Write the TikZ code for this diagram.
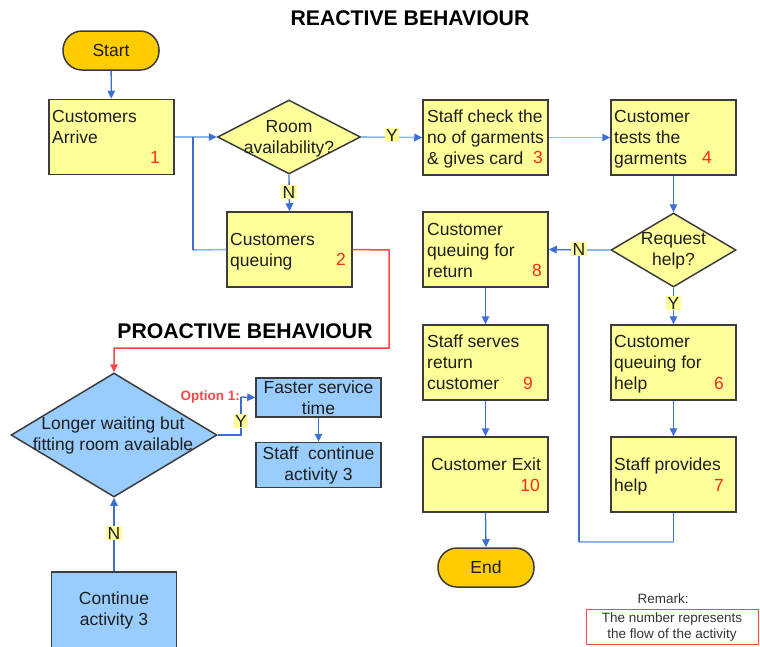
\documentclass[tikz,border=0pt]{standalone}
\usepackage{fontspec}
\setmainfont{Liberation Sans}
\usetikzlibrary{shapes.geometric,arrows.meta}

\definecolor{boxyellow}{HTML}{FFFF99}
\definecolor{termgold}{HTML}{FFCC00}
\definecolor{boxblue}{HTML}{99CCFF}
\definecolor{edgegray}{HTML}{3C3C3C}
\definecolor{flowblue}{HTML}{3D6FD2}
\definecolor{flowlight}{HTML}{8DB6EC}
\definecolor{flowred}{HTML}{FF4545}
\definecolor{numred}{HTML}{FF2A1A}
\definecolor{inkdark}{HTML}{1E1E1E}
\definecolor{remarkgray}{HTML}{333333}

\begin{document}
\begin{tikzpicture}[x=1pt,y=-1pt,
  every node/.style={font=\fontsize{17.5}{21}\selectfont, text=inkdark},
  ybox/.style={draw=edgegray, line width=1.5pt, fill=boxyellow,
    minimum width=125pt, minimum height=75pt, inner sep=0pt},
  bbox/.style={draw=edgegray, line width=1.5pt, fill=boxblue,
    minimum width=125pt, inner sep=0pt},
  term/.style={draw=edgegray, line width=1.5pt, fill=termgold,
    rounded corners=19pt, minimum width=96pt, minimum height=39pt, inner sep=0pt},
  decide/.style={diamond, draw=edgegray, line width=1.5pt, inner sep=0pt},
  txt/.style={anchor=north west, align=left, inner sep=0pt},
  ctxt/.style={align=center, inner sep=0pt},
  num/.style={text=numred, inner sep=0pt},
  yn/.style={fill=boxyellow, inner sep=1.2pt},
  tip/.style={-{Triangle[length=8pt,width=7.5pt,color=flowblue]}},
  flow/.style={draw=flowblue, line width=1.3pt},
  lflow/.style={draw=flowlight, line width=1.6pt},
  rflow/.style={draw=flowred, line width=1.5pt},
  headline/.style={font=\fontsize{21.2}{25}\selectfont\bfseries, text=black}
]
\useasboundingbox (0,0) rectangle (760,646);
\clip (0,0) rectangle (760,646);

% ---------- reactive flow ----------
\node[headline] (t1) at (410,18) {REACTIVE BEHAVIOUR};

\node[term] (st) at (111,50.5) {Start};

\node[ybox] (b1) at (111.5,137) {};
\node[txt] (b1t) at (52,110) {Customers\\Arrive};
\node[num] (b1n) at (155,157) {1};

\node[decide, fill=boxyellow, minimum width=143pt, minimum height=74pt] (rd) at (289,137) {};
\node[ctxt] (rdt) at (289,138.5) {Room\\availability?};

\node[ybox] (b3) at (485.5,137.5) {};
\node[txt] (b3t) at (427,110) {Staff check the\\no of garments\\\& gives card};
\node[num] (b3n) at (538,157) {3};

\node[ybox] (b4) at (673.5,137.5) {};
\node[txt] (b4t) at (614,110) {Customer\\tests the\\garments};
\node[num] (b4n) at (707,157) {4};

\node[ybox] (b2) at (289.5,249.5) {};
\node[txt] (b2t) at (230,233) {Customers\\queuing};
\node[num] (b2n) at (341,259) {2};

\node[decide, fill=boxyellow, minimum width=125pt, minimum height=74pt] (rh) at (673.5,250) {};
\node[ctxt] (rht) at (673.5,250.5) {Request\\help?};

\node[ybox] (b8) at (485.5,249.5) {};
\node[txt] (b8t) at (427,223) {Customer\\queuing for\\return};
\node[num] (b8n) at (537,270) {8};

\node[ybox] (b9) at (485.5,362.5) {};
\node[txt] (b9t) at (427,335) {Staff serves\\return\\customer};
\node[num] (b9n) at (528,383) {9};

\node[ybox] (b10) at (485.5,474.5) {};
\node[ctxt] (b10t) at (486,464.5) {Customer Exit};
\node[num] (b10n) at (530,485) {10};

\node[term] (en) at (486,567.5) {End};

\node[ybox] (b6) at (673.5,362.5) {};
\node[txt] (b6t) at (614,335) {Customer\\queuing for\\help};
\node[num] (b6n) at (719,383) {6};

\node[ybox] (b7) at (673.5,474.5) {};
\node[txt] (b7t) at (614,458) {Staff provides\\help};
\node[num] (b7n) at (719,485) {7};

% junction points of the loops
\coordinate (ja) at (193,137);
\coordinate (jb) at (193,250);
\coordinate (jc) at (579,250);
\coordinate (jd) at (579,542);
\coordinate (je) at (673.5,542);
\coordinate (rA) at (389,250);
\coordinate (rB) at (389,348);
\coordinate (rC) at (114,348);

% connectors
\draw[flow, tip] (st) -- (b1);
\draw[lflow, tip] (b1.east) -- (rd.west);
\draw[lflow] (b2.west) -- (jb);
\draw[flow] (jb) -- (ja);
\draw[lflow, tip] (rd.east) -- (b3.west);
\draw[lflow, tip] (b3.east) -- (b4.west);
\draw[flow, tip] (b4.south) -- (rh.north);
\draw[flow, tip] (rd.south) -- (b2.north);
\draw[lflow] (rh.west) -- (jc);
\draw[flow, tip] (jc) -- (b8.east);
\draw[flow, tip] (rh.south) -- (b6.north);
\draw[flow, tip] (b6.south) -- (b7.north);
\draw[flow] (b7.south) -- (je);
\draw[lflow] (je) -- (jd);
\draw[flow] (jd) -- (jc);
\draw[flow, tip] (b8.south) -- (b9.north);
\draw[flow, tip] (b9.south) -- (b10.north);
\draw[flow, tip] (b10.south) -- (en.north);

\node[yn] (yA) at (392,135) {Y};
\node[yn] (nA) at (289,192) {N};
\node[yn] (nB) at (579,249) {N};
\node[yn] (yB) at (673.5,303) {Y};

% ---------- proactive flow ----------
\node[headline] (t2) at (245,331) {PROACTIVE BEHAVIOUR};

\node[decide, fill=boxblue, minimum width=206pt, minimum height=124pt] (bd) at (114,435) {};
\node[ctxt] (bdt) at (113,435.5) {Longer waiting but\\fitting room available};

\node[bbox, minimum height=39pt] (fs) at (318.5,397.5) {};
\node[ctxt] (fst) at (318.5,398) {Faster service\\time};

\node[bbox, minimum height=45pt] (sc) at (318.5,465) {};
\node[ctxt] (sct) at (318.5,465) {Staff\ \ continue\\activity 3};

\node[bbox, minimum height=90pt] (ca) at (114,617) {};
\node[ctxt] (cat) at (114,610) {Continue\\activity 3};

\coordinate (oa) at (241,435);
\coordinate (ob) at (241,397);

\draw[rflow, -{Triangle[length=8pt,width=7.5pt]}] (b2.east) -- (rA) -- (rB) -- (rC) -- (bd.north);
\draw[flow] (bd.east) -- (oa) -- (ob);
\draw[flow, tip] (ob) -- (fs.west);
\draw[flow, tip] (fs.south) -- (sc.north);
\draw[flow, tip] (ca.north) -- (bd.south);

\node[yn] (yC) at (241,421) {Y};
\node[yn] (nC) at (114,533) {N};
\node[anchor=east, inner sep=0pt, text=flowred,
  font=\fontsize{13.5}{16}\selectfont\bfseries] (opt) at (240,397) {Option 1:};

% ---------- remark ----------
\node[text=remarkgray, font=\fontsize{13.5}{16}\selectfont] (rmk) at (663,599) {Remark:};
\node[draw=flowred, line width=1pt, minimum width=172pt, minimum height=35pt,
  inner sep=0pt, align=center, text=remarkgray,
  font=\fontsize{13.5}{16}\selectfont] (rm) at (672,626.5)
  {The number represents\\the flow of the activity};
\end{tikzpicture}
\end{document}
